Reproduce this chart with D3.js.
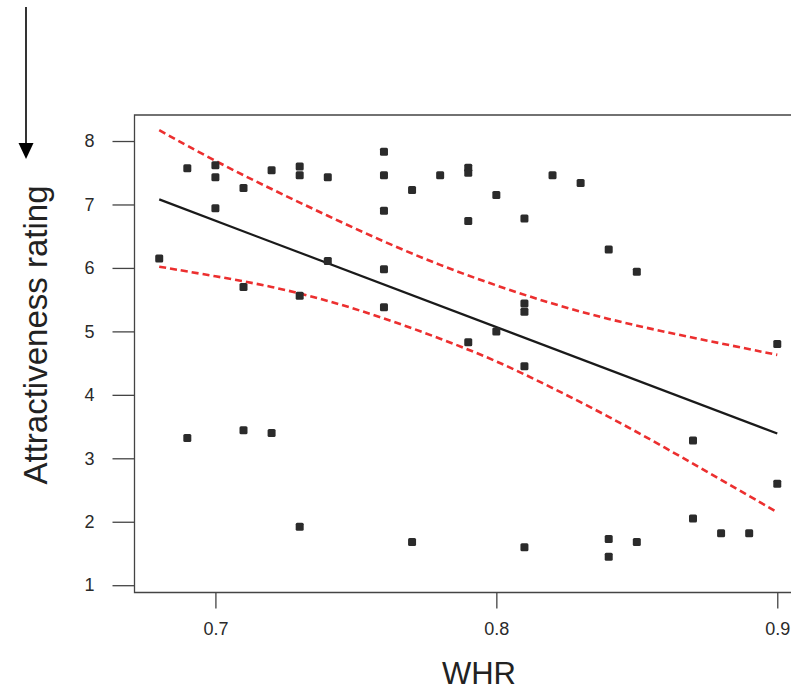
<!DOCTYPE html>
<html>
<head>
<meta charset="utf-8">
<script src="https://cdn.jsdelivr.net/npm/d3@7"></script>
<style>
  body { margin: 0; background: #fff; }
  text { font-family: "Liberation Sans", Arial, sans-serif; }
</style>
</head>
<body>
<div id="chart"></div>
<script>
// scatter points: waist-hip ratio vs rating
const whr = [0.68, 0.69, 0.69, 0.70, 0.70, 0.70, 0.71, 0.71, 0.71, 0.72, 0.72,
  0.73, 0.73, 0.73, 0.73, 0.74, 0.74, 0.76, 0.76, 0.76, 0.76, 0.76, 0.77, 0.77,
  0.78, 0.79, 0.79, 0.79, 0.79, 0.80, 0.80, 0.81, 0.81, 0.81, 0.81, 0.81, 0.82,
  0.83, 0.84, 0.84, 0.84, 0.85, 0.85, 0.87, 0.87, 0.88, 0.89, 0.90, 0.90];
const rating = [6.15, 7.57, 3.32, 7.62, 7.43, 6.94, 7.26, 5.70, 3.44, 7.54, 3.40,
  7.60, 7.46, 5.56, 1.92, 7.43, 6.11, 7.83, 7.46, 6.90, 5.98, 5.38, 7.23, 1.68,
  7.46, 7.58, 7.50, 6.74, 4.83, 7.15, 5.00, 6.78, 5.44, 5.31, 4.45, 1.60, 7.46,
  7.34, 6.29, 1.73, 1.45, 5.94, 1.68, 3.28, 2.05, 1.82, 1.82, 4.80, 2.60];

// fitted line and confidence band
const fitX = [0.68, 0.90];
const fitY = [7.08, 3.39];
const bandX = [0.68, 0.70, 0.72, 0.74, 0.76, 0.78, 0.80, 0.82, 0.84, 0.86, 0.88, 0.90];
const bandUpper = [8.17, 7.68, 7.24, 6.82, 6.41, 6.04, 5.72, 5.43, 5.19, 4.99, 4.81, 4.63];
const bandLower = [6.02, 5.87, 5.71, 5.49, 5.21, 4.89, 4.54, 4.11, 3.66, 3.17, 2.66, 2.15];

const xTicks = [0.7, 0.8, 0.9];
const yTicks = [1, 2, 3, 4, 5, 6, 7, 8];

const width = 791, height = 691;
const box = {left: 134.5, top: 115, right: 802, bottom: 592.5};

const svg = d3.select("#chart").append("svg")
  .attr("width", width)
  .attr("height", height);

const x = d3.scaleLinear()
  .domain([0.6712, 0.9088])
  .range([box.left, box.right]);

const y = d3.scaleLinear()
  .domain([0.885, 8.41])
  .range([box.bottom, box.top]);

// arrow in the corner
svg.append("line")
  .attr("x1", 26).attr("x2", 26)
  .attr("y1", 7).attr("y2", 144)
  .attr("stroke", "#000").attr("stroke-width", 1.6);
svg.append("path")
  .attr("d", "M18.5,143 L33.5,143 L26,159 Z")
  .attr("fill", "#000");

// plot frame (right side runs past the window)
svg.append("path")
  .attr("d", `M${box.right},${box.top} H${box.left} V${box.bottom} H${box.right}`)
  .attr("fill", "none")
  .attr("stroke", "#444")
  .attr("stroke-width", 1.3);

// y axis
let yAxis = svg.append("g")
  .attr("transform", `translate(${box.left},0)`)
  .call(d3.axisLeft(y).tickValues(yTicks).tickSize(22).tickPadding(18).tickFormat(d3.format("d")));
yAxis.select(".domain").remove();
yAxis.selectAll("line").attr("stroke", "#444").attr("stroke-width", 1.3);
yAxis.selectAll("text")
  .attr("fill", "#2a2a2a")
  .style("font-size", "18px");

// x axis
let xAxis = svg.append("g")
  .attr("transform", `translate(0,${box.bottom})`)
  .call(d3.axisBottom(x).tickValues(xTicks).tickSize(16).tickPadding(14).tickFormat(d3.format(".1f")));
xAxis.select(".domain").remove();
xAxis.selectAll("line").attr("stroke", "#444").attr("stroke-width", 1.3);
xAxis.selectAll("text")
  .attr("fill", "#2a2a2a")
  .style("font-size", "18px");

// axis titles
svg.append("text")
  .attr("transform", `translate(47,335) rotate(-90)`)
  .style("text-anchor", "middle")
  .style("font-size", "33px")
  .attr("fill", "#222")
  .text("Attractiveness rating");

svg.append("text")
  .attr("x", 479).attr("y", 684)
  .style("text-anchor", "middle")
  .style("font-size", "31px")
  .attr("fill", "#222")
  .text("WHR");

// confidence band
const bandLine = d3.line().curve(d3.curveBasis);
[bandUpper, bandLower].forEach(function(vals) {
  svg.append("path")
    .attr("d", bandLine(bandX.map((d, i) => [x(d), y(vals[i])])))
    .attr("fill", "none")
    .attr("stroke", "#ec2f2f")
    .attr("stroke-width", 2.6)
    .attr("stroke-dasharray", "7,4");
});

// fitted line
svg.append("path")
  .attr("d", d3.line()(fitX.map((d, i) => [x(d), y(fitY[i])])))
  .attr("fill", "none")
  .attr("stroke", "#1a1a1a")
  .attr("stroke-width", 2.2);

// points
svg.selectAll("rect.pt")
  .data(whr.map((d, i) => ({w: d, r: rating[i]})))
  .enter()
  .append("rect")
  .attr("class", "pt")
  .attr("x", d => x(d.w) - 4)
  .attr("y", d => y(d.r) - 4)
  .attr("width", 8)
  .attr("height", 8)
  .attr("rx", 1.5)
  .attr("fill", "#2b2b2b");
</script>
</body>
</html>
